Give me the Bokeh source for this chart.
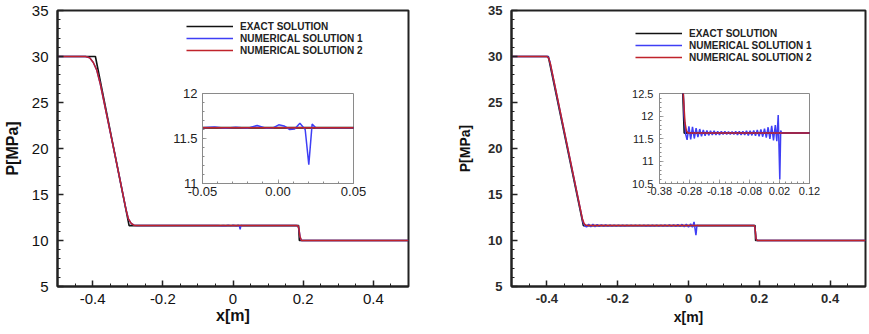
import numpy as np
from bokeh.plotting import figure
from bokeh.models import Range1d, Legend, LegendItem, GridBox, FixedTicker
from bokeh.embed import file_html
from bokeh.resources import INLINE

# ---------------- data ----------------
series_names = ["EXACT SOLUTION", "NUMERICAL SOLUTION 1", "NUMERICAL SOLUTION 2"]

x_ticks = [-0.4, -0.2, 0.0, 0.2, 0.4]
x_tick_labels = ["-0.4", "-0.2", "0", "0.2", "0.4"]
y_ticks = [5, 10, 15, 20, 25, 30, 35]
y_tick_labels = ["5", "10", "15", "20", "25", "30", "35"]

inset1_x_ticks = [-0.05, 0.0, 0.05]
inset1_x_labels = ["-0.05", "0.00", "0.05"]
inset1_y_ticks = [11.0, 11.5, 12.0]
inset1_y_labels = ["11", "11.5", "12"]

inset2_x_ticks = [-0.38, -0.28, -0.18, -0.08, 0.02, 0.12]
inset2_x_labels = ["-0.38", "-0.28", "-0.18", "-0.08", "0.02", "0.12"]
inset2_y_ticks = [10.5, 11.0, 11.5, 12.0, 12.5]
inset2_y_labels = ["10.5", "11", "11.5", "12", "12.5"]

# left panel
exact_a_x = [-0.5, -0.392, -0.296, 0.187, 0.189, 0.5]
exact_a_p = [30.0, 30.0, 11.62, 11.62, 10.0, 10.0]

num1_a_x = [-0.5, -0.42, -0.408, -0.398, -0.388, -0.378, -0.340, -0.305, -0.298, -0.290,
            -0.282, -0.274, -0.05, -0.042, -0.035, -0.028, -0.02, -0.0138, -0.008, -0.003,
            0.0005, 0.004, 0.0078, 0.011, 0.0145, 0.018, 0.0204, 0.0226, 0.025, 0.180,
            0.185, 0.188, 0.191, 0.195, 0.5]
num1_a_p = [30.0, 30.0, 29.85, 29.35, 28.5, 27.0, 20.0, 13.4, 12.35, 11.85,
            11.67, 11.62, 11.62, 11.627, 11.615, 11.625, 11.615, 11.645, 11.615, 11.62,
            11.652, 11.64, 11.60, 11.605, 11.67, 11.60, 11.21, 11.66, 11.62, 11.62,
            11.6, 11.2, 10.4, 10.0, 10.0]

num2_a_x = [-0.5, -0.42, -0.408, -0.398, -0.388, -0.378, -0.340, -0.305, -0.298, -0.290,
            -0.282, -0.274, 0.180, 0.185, 0.188, 0.191, 0.195, 0.5]
num2_a_p = [30.0, 30.0, 29.85, 29.35, 28.5, 27.0, 20.0, 13.4, 12.35, 11.85,
            11.67, 11.62, 11.62, 11.6, 11.2, 10.4, 10.0, 10.0]

# right panel
exact_b_x = [-0.5, -0.396, -0.297, 0.188, 0.1895, 0.5]
exact_b_p = [30.0, 30.0, 11.62, 11.62, 10.0, 10.0]

num1_b_x = [-0.5, -0.397, -0.392, -0.298, -0.293,
            -0.288, -0.282, -0.276, -0.270, -0.264, -0.258, -0.252, -0.246, -0.240, -0.234,
            -0.228, -0.222, -0.216, -0.210, -0.204, -0.198, -0.192, -0.186, -0.180, -0.174,
            -0.168, -0.162, -0.156, -0.150, -0.144, -0.138, -0.132, -0.126, -0.120, -0.114,
            -0.108, -0.102, -0.096, -0.090, -0.084, -0.078, -0.072, -0.066, -0.060, -0.054,
            -0.048, -0.042, -0.036, -0.030, -0.024, -0.018, -0.012, -0.006, 0.000, 0.006,
            0.011, 0.0157, 0.021, 0.024, 0.027, 0.186, 0.188, 0.191, 0.194, 0.5]
num1_b_p = [30.0, 30.0, 29.5, 12.0, 11.6,
            11.47, 11.77, 11.48, 11.76, 11.50, 11.73, 11.53, 11.71, 11.55, 11.69,
            11.56, 11.68, 11.57, 11.67, 11.58, 11.67, 11.58, 11.66, 11.58, 11.66,
            11.59, 11.66, 11.59, 11.65, 11.59, 11.65, 11.59, 11.66, 11.58, 11.66,
            11.58, 11.66, 11.58, 11.67, 11.57, 11.67, 11.57, 11.68, 11.56, 11.69,
            11.55, 11.70, 11.54, 11.72, 11.52, 11.75, 11.49, 11.78, 11.46, 11.80,
            11.44, 12.02, 10.59, 11.68, 11.62, 11.62, 11.3, 10.2, 10.0, 10.0]

num2_b_x = [-0.5, -0.400, -0.395, -0.390, -0.300, -0.295, -0.290, -0.284, 0.186, 0.188,
            0.191, 0.194, 0.5]
num2_b_p = [30.0, 30.0, 29.8, 29.2, 12.4, 11.85, 11.66, 11.62, 11.62, 11.3,
            10.2, 10.0, 10.0]

# ---------------- style ----------------
FONT = "Liberation Sans"
C_EXACT = "#111111"
C_NUM1 = "#3f3ff5"
C_NUM2 = "#c0232b"


def minor(a, b, step):
    return [round(v, 4) for v in np.arange(a, b + step / 2, step)]


def set_axis(ax, ticks, labels, minors, size, bold, color, axis_w, tin, min_in, standoff, axis_color):
    ax.ticker = FixedTicker(ticks=ticks, minor_ticks=minors)
    ax.major_label_overrides = {t: l for t, l in zip(ticks, labels)}
    ax.major_label_text_font = FONT
    ax.major_label_text_font_size = size
    ax.major_label_text_font_style = "bold" if bold else "normal"
    ax.major_label_text_color = color
    ax.major_label_standoff = standoff
    ax.axis_line_width = axis_w
    ax.axis_line_color = axis_color
    ax.major_tick_in = tin
    ax.major_tick_out = 0
    ax.minor_tick_in = min_in
    ax.minor_tick_out = 0
    ax.major_tick_line_color = axis_color
    ax.minor_tick_line_color = axis_color
    ax.major_tick_line_width = axis_w * 0.75
    ax.minor_tick_line_width = 1


def main_panel(width, mb_left, mb_right, ex, ep, n1x, n1p, n2x, n2p,
               tick_size, tick_bold, title_size, ylab_standoff, xlab_standoff, legend_loc, color):
    p = figure(width=width, height=334, x_range=Range1d(-0.5, 0.5), y_range=Range1d(5, 35),
               output_backend="svg", toolbar_location=None,
               min_border_left=mb_left, min_border_right=mb_right,
               min_border_top=10, min_border_bottom=48)
    p.xgrid.visible = False
    p.ygrid.visible = False
    p.outline_line_color = "#222222"
    p.outline_line_width = 2
    p.background_fill_color = "white"
    p.border_fill_color = "white"
    set_axis(p.xaxis[0], x_ticks, x_tick_labels, minor(-0.5, 0.5, 0.05), tick_size, tick_bold,
             color, 2, 6, 3, 7, "#222222")
    set_axis(p.yaxis[0], y_ticks, y_tick_labels, minor(5, 35, 1), tick_size, tick_bold,
             color, 2, 6, 3, 9, "#222222")
    p.xaxis.axis_label = "x[m]"
    p.yaxis.axis_label = "P[MPa]"
    for ax in (p.xaxis[0], p.yaxis[0]):
        ax.axis_label_text_font = FONT
        ax.axis_label_text_font_style = "bold"
        ax.axis_label_text_font_size = title_size
        ax.axis_label_text_color = "#111111"
    p.yaxis.axis_label_standoff = ylab_standoff
    p.xaxis.axis_label_standoff = xlab_standoff

    r0 = p.line(ex, ep, color=C_EXACT, line_width=1.6)
    r1 = p.line(n1x, n1p, color=C_NUM1, line_width=1.5)
    r2 = p.line(n2x, n2p, color=C_NUM2, line_width=1.5)
    leg = Legend(items=[LegendItem(label=series_names[0], renderers=[r0]),
                        LegendItem(label=series_names[1], renderers=[r1]),
                        LegendItem(label=series_names[2], renderers=[r2])],
                 location=legend_loc)
    leg.label_text_font = FONT
    leg.label_text_font_size = "10px"
    leg.label_text_font_style = "bold"
    leg.label_text_color = "#222222"
    leg.glyph_width = 47
    leg.glyph_height = 12
    leg.label_height = 12
    leg.label_standoff = 7
    leg.spacing = 0
    leg.padding = 0
    leg.margin = 0
    leg.border_line_alpha = 0
    leg.background_fill_alpha = 0
    p.add_layout(leg)
    return p


def inset_panel(width, mb_left, mb_right, xr, yr, xt, xl, xm, yt, yl, ym, size,
                ex, ep, n1x, n1p, n2x, n2p, ystand):
    p = figure(width=width, height=135, x_range=Range1d(*xr), y_range=Range1d(*yr),
               output_backend="svg", toolbar_location=None,
               min_border_left=mb_left, min_border_right=mb_right,
               min_border_top=18, min_border_bottom=27)
    p.xgrid.visible = False
    p.ygrid.visible = False
    p.outline_line_color = "#8a8a8a"
    p.outline_line_width = 1
    p.background_fill_color = "white"
    p.border_fill_color = None
    set_axis(p.xaxis[0], xt, xl, xm, size, False, "#222222", 1, 4, 2, 3, "#8a8a8a")
    set_axis(p.yaxis[0], yt, yl, ym, size, False, "#222222", 1, 4, 2, ystand, "#8a8a8a")
    p.line(ex, ep, color=C_EXACT, line_width=2)
    p.line(n1x, n1p, color=C_NUM1, line_width=1.5)
    p.line(n2x, n2p, color=C_NUM2, line_width=1.5)
    return p


left = main_panel(434, 54, 26, exact_a_x, exact_a_p, num1_a_x, num1_a_p, num2_a_x, num2_a_p,
                  "15px", False, "16px", 8, 0, (129, 230), "#111111")
right = main_panel(435, 77, 4, exact_b_x, exact_b_p, num1_b_x, num1_b_p, num2_b_x, num2_b_p,
                   "13px", True, "14px", 12, 3, (124, 223), "#2a2a2a")

inset_a = inset_panel(212, 44, 17, (-0.05, 0.05), (11, 12),
                      inset1_x_ticks, inset1_x_labels, minor(-0.05, 0.05, 0.01),
                      inset1_y_ticks, inset1_y_labels, minor(11, 12, 0.1), "13px",
                      exact_a_x, exact_a_p, num1_a_x, num1_a_p, num2_a_x, num2_a_p, 5)
inset_b = inset_panel(205, 39, 16, (-0.38, 0.12), (10.5, 12.5),
                      inset2_x_ticks, inset2_x_labels, minor(-0.38, 0.12, 0.02),
                      inset2_y_ticks, inset2_y_labels, minor(10.5, 12.5, 0.1), "11px",
                      exact_b_x, exact_b_p, num1_b_x, num1_b_p, num2_b_x, num2_b_p, 6)

grid = GridBox(children=[(left, 0, 0, 3, 3), (right, 0, 3, 3, 3),
                         (inset_a, 1, 1, 1, 1), (inset_b, 1, 4, 1, 1)],
               rows=["75px", "135px", "124px"],
               cols=["158px", "212px", "64px", "186px", "205px", "44px"],
               spacing=0)

open("out.html", "w").write(file_html(grid, INLINE))
